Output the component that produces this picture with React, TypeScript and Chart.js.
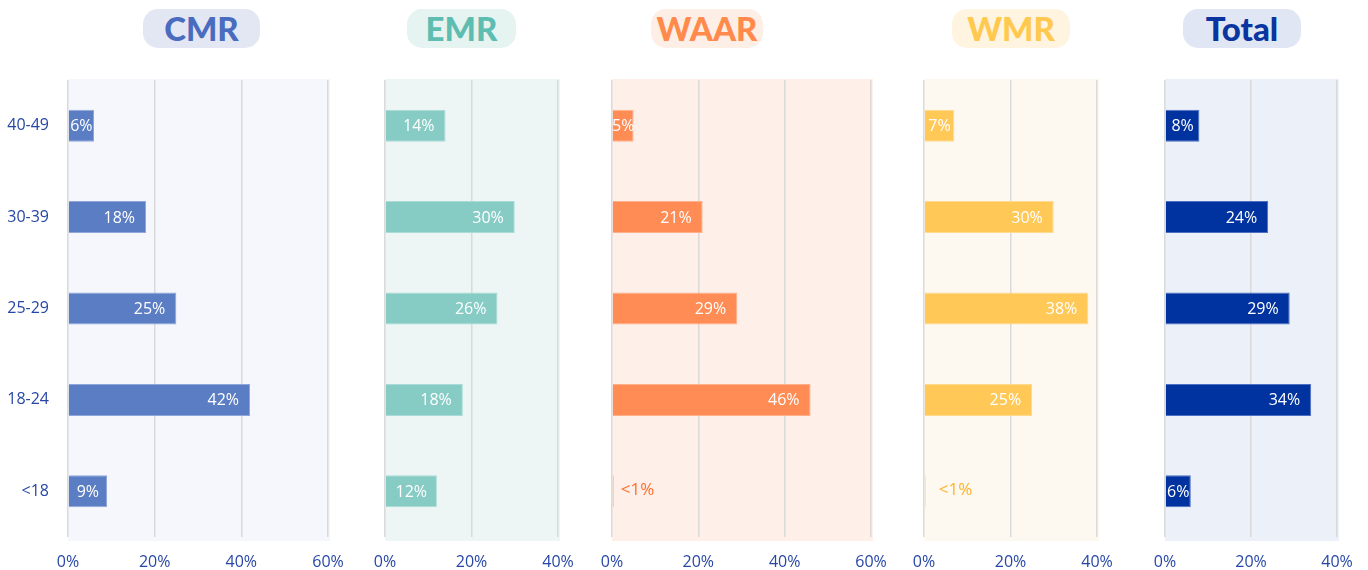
import React, { useEffect, useRef } from 'react';
import { Chart, registerables } from 'chart.js';

Chart.register(...registerables);

// ---------- data ----------
const ageGroups = ['40-49', '30-39', '25-29', '18-24', '<18'];
const cmrValues = [6, 18, 25, 42, 9];
const emrValues = [14, 30, 26, 18, 12];
const waarValues = [5, 21, 29, 46, 0.4];
const wmrValues = [7, 30, 38, 25, 0.4];
const totalValues = [8, 24, 29, 34, 6];
const panelTitles = ['CMR', 'EMR', 'WAAR', 'WMR', 'Total'];
const axisMaxima = [60, 40, 60, 40, 40];
const tickStep = 20;

// ---------- styling ----------
const TICK_COLOR = '#2747a6';
const GRID_COLOR = '#dadada';

type PanelStyle = {
  bar: string;
  barBorder: string;
  bg: string;
  title: string;
  pill: string;
  small: string;
  smallOffset: number;
  plotLeft: number;
  plotRight: number;
  pillLeft: number;
  pillWidth: number;
  showY: boolean;
};

const panelStyles: PanelStyle[] = [
  { bar: '#5b7dc4', barBorder: '#8ea6da', bg: '#f6f7fc', title: '#4a6cbf', pill: '#e3e7f3', small: '#5b7dc4', smallOffset: 8, plotLeft: 68, plotRight: 328, pillLeft: 143, pillWidth: 117, showY: true },
  { bar: '#86cbc4', barBorder: '#a9dcd6', bg: '#edf6f5', title: '#5dbdb1', pill: '#e5f3f1', small: '#5dbdb1', smallOffset: 8, plotLeft: 385, plotRight: 558, pillLeft: 407, pillWidth: 109, showY: false },
  { bar: '#ff8c55', barBorder: '#ffb08a', bg: '#feefe8', title: '#ff8a4c', pill: '#fdeee6', small: '#ff6d2d', smallOffset: 8, plotLeft: 612, plotRight: 871, pillLeft: 651, pillWidth: 112, showY: false },
  { bar: '#ffc857', barBorder: '#ffdb8f', bg: '#fef9f0', title: '#ffc84f', pill: '#fff4df', small: '#ffb324', smallOffset: 14, plotLeft: 924, plotRight: 1097, pillLeft: 952, pillWidth: 118, showY: false },
  { bar: '#0033a0', barBorder: '#4d6fc0', bg: '#ecf0f8', title: '#0a35a0', pill: '#e1e6f4', small: '#0033a0', smallOffset: 8, plotLeft: 1165, plotRight: 1337, pillLeft: 1183, pillWidth: 118, showY: false },
];

const panelValues = [cmrValues, emrValues, waarValues, wmrValues, totalValues];

const PLOT_TOP = 80;
const PLOT_BOTTOM = 537;
const PAD_TOP = 36;
const X_AXIS_HEIGHT = 33;
const Y_AXIS_WIDTH = 68;
const PAD_LEFT = 30;
const PAD_RIGHT = 40;

function formatValue(v: number): string {
  return v < 1 ? '<1%' : Math.round(v) + '%';
}

function Panel({ index }: { index: number }) {
  const ref = useRef<HTMLCanvasElement | null>(null);
  const st = panelStyles[index];
  const values = panelValues[index];
  const max = axisMaxima[index];
  const padL = st.showY ? Y_AXIS_WIDTH : PAD_LEFT;
  const canvasLeft = st.plotLeft - padL;
  const canvasWidth = st.plotRight - st.plotLeft + padL + PAD_RIGHT;
  const canvasTop = PLOT_TOP - PAD_TOP;
  const canvasHeight = PLOT_BOTTOM + X_AXIS_HEIGHT - canvasTop;

  useEffect(() => {
    if (!ref.current) return;
    const bgPlugin = {
      id: 'panelBg' + index,
      beforeDraw(chart: any) {
        const { ctx, chartArea } = chart;
        ctx.save();
        ctx.fillStyle = st.bg;
        ctx.fillRect(chartArea.left, chartArea.top - 1, chartArea.right - chartArea.left + 2, chartArea.bottom - chartArea.top + 5);
        ctx.restore();
      },
    };
    const labelPlugin = {
      id: 'barLabels' + index,
      afterDatasetsDraw(chart: any) {
        const { ctx, chartArea } = chart;
        const meta = chart.getDatasetMeta(0);
        const data = chart.data.datasets[0].data as number[];
        ctx.save();
        ctx.beginPath();
        ctx.rect(chartArea.left, chartArea.top, chartArea.right - chartArea.left, chartArea.bottom - chartArea.top);
        ctx.clip();
        ctx.textBaseline = 'middle';
        meta.data.forEach((bar: any, i: number) => {
          const v = data[i];
          const text = formatValue(v);
          const end = bar.x;
          const start = bar.base;
          const y = bar.y + 1;
          if (v < 1) {
            ctx.font = '17px "Open Sans"';
            ctx.fillStyle = st.small;
            ctx.textAlign = 'left';
            ctx.fillText(text, start + st.smallOffset, y - 2);
            return;
          }
          ctx.font = '16px "Open Sans"';
          const w = ctx.measureText(text).width;
          const cx = Math.max((start + end) / 2, end - 11 - w / 2);
          ctx.fillStyle = '#ffffff';
          ctx.textAlign = 'center';
          ctx.fillText(text, cx, y);
        });
        ctx.restore();
      },
    };

    const chart = new Chart(ref.current, {
      type: 'bar',
      data: {
        labels: ageGroups,
        datasets: [
          {
            data: values,
            backgroundColor: st.bar,
            borderColor: st.barBorder,
            borderWidth: 1,
            barPercentage: 0.35,
            categoryPercentage: 1,
          },
        ],
      },
      options: {
        indexAxis: 'y',
        responsive: false,
        animation: false,
        layout: { padding: { left: st.showY ? 0 : PAD_LEFT, right: PAD_RIGHT, top: PAD_TOP, bottom: 0 } },
        plugins: { legend: { display: false }, tooltip: { enabled: false }, title: { display: false } },
        scales: {
          x: {
            min: 0,
            max: max,
            ticks: {
              stepSize: tickStep,
              callback: (v: any) => v + '%',
              color: TICK_COLOR,
              font: { family: '"Open Sans"', size: 16 },
              padding: 16,
              maxRotation: 0,
              autoSkip: false,
            },
            grid: { color: GRID_COLOR, lineWidth: 1.5, drawTicks: false },
            border: { display: false },
            afterFit: (s: any) => {
              s.height = X_AXIS_HEIGHT;
            },
          },
          y: {
            display: st.showY,
            ticks: {
              color: TICK_COLOR,
              font: { family: '"Open Sans"', size: 16 },
              padding: 19,
            },
            grid: { display: false, drawTicks: false },
            border: { display: false },
            afterFit: (s: any) => {
              if (st.showY) s.width = Y_AXIS_WIDTH;
            },
          },
        },
      } as any,
      plugins: [bgPlugin, labelPlugin],
    });
    return () => chart.destroy();
  }, []);

  return (
    <canvas
      ref={ref}
      width={canvasWidth}
      height={canvasHeight}
      style={{ position: 'absolute', left: canvasLeft, top: canvasTop, width: canvasWidth, height: canvasHeight }}
    />
  );
}

export default function App() {
  return (
    <div style={{ position: 'fixed', left: 0, top: 0, width: 1368, height: 570, background: '#ffffff', overflow: 'hidden' }}>
      {panelTitles.map((t, i) => (
        <div
          key={t}
          style={{
            position: 'absolute',
            left: panelStyles[i].pillLeft,
            top: 9,
            width: panelStyles[i].pillWidth,
            height: 39,
            borderRadius: 15,
            background: panelStyles[i].pill,
            color: panelStyles[i].title,
            fontFamily: 'Lato, sans-serif',
            fontWeight: 900,
            fontSize: 33,
            lineHeight: '39px',
            textAlign: 'center',
          }}
        >
          {t}
        </div>
      ))}
      {panelTitles.map((t, i) => (
        <Panel key={'p' + t} index={i} />
      ))}
    </div>
  );
}
